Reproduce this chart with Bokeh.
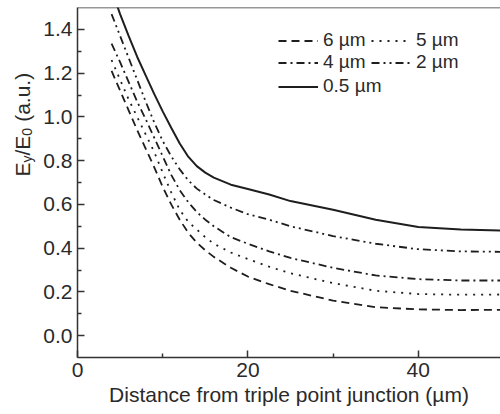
import math
from bokeh.plotting import figure
from bokeh.layouts import row
from bokeh.models import (Legend, LegendItem, Span, Label, FixedTicker, Range1d)
from bokeh.embed import file_html
from bokeh.resources import INLINE

# ---- data ----
distance = [4, 5, 6, 7, 8, 9, 10, 11, 12, 13, 14, 15, 16, 18, 20, 22.5, 25, 30, 35, 40, 45, 50]
e_6um = [1.21, 1.12, 1.03, 0.94, 0.855, 0.77, 0.68, 0.60, 0.53, 0.47, 0.425, 0.39, 0.36, 0.31, 0.27, 0.235, 0.205, 0.16, 0.13, 0.12, 0.117, 0.118]
e_5um = [1.26, 1.17, 1.08, 1.0, 0.92, 0.84, 0.745, 0.655, 0.575, 0.52, 0.485, 0.45, 0.42, 0.38, 0.35, 0.315, 0.285, 0.24, 0.205, 0.19, 0.187, 0.188]
e_4um = [1.335, 1.25, 1.16, 1.07, 0.99, 0.905, 0.82, 0.735, 0.665, 0.61, 0.565, 0.53, 0.50, 0.45, 0.42, 0.385, 0.355, 0.31, 0.275, 0.258, 0.252, 0.252]
e_2um = [1.47, 1.37, 1.27, 1.17, 1.07, 0.975, 0.89, 0.82, 0.76, 0.71, 0.672, 0.645, 0.62, 0.585, 0.555, 0.53, 0.50, 0.455, 0.42, 0.395, 0.385, 0.383]
e_05um = [1.58, 1.47, 1.37, 1.275, 1.19, 1.105, 1.025, 0.95, 0.878, 0.818, 0.775, 0.745, 0.722, 0.69, 0.67, 0.645, 0.615, 0.575, 0.53, 0.497, 0.485, 0.48]
series_labels = ["6 µm", "5 µm", "4 µm", "2 µm", "0.5 µm"]

x_ticks = [0, 20, 40]
x_tick_labels = ["0", "20", "40"]
x_minor = [10, 30]
y_ticks = [0.0, 0.2, 0.4, 0.6, 0.8, 1.0, 1.2, 1.4]
y_tick_labels = ["0.0", "0.2", "0.4", "0.6", "0.8", "1.0", "1.2", "1.4"]
y_minor = [0.1, 0.3, 0.5, 0.7, 0.9, 1.1, 1.3]

FONT = "Liberation Sans"
INK = "#1e1e1e"
AX = "#333333"
TXT = "#2a2a2a"

TOTAL_H = 414
LAB_W = 38

# ---- main plot ----
p = figure(width=500 - LAB_W, height=TOTAL_H, x_range=Range1d(0, 49.65), y_range=Range1d(-0.1, 1.5),
           output_backend="svg", toolbar_location=None,
           min_border_left=77 - LAB_W, min_border_right=0, min_border_top=7, min_border_bottom=57)
p.outline_line_color = None
p.grid.visible = False
p.background_fill_color = "white"

p.xaxis.ticker = FixedTicker(ticks=x_ticks, minor_ticks=x_minor)
p.xaxis.major_label_overrides = dict(zip(x_ticks, x_tick_labels))
p.yaxis.ticker = FixedTicker(ticks=y_ticks, minor_ticks=y_minor)
p.yaxis.major_label_overrides = dict(zip(y_ticks, y_tick_labels))

for ax in p.axis:
    ax.axis_line_color = AX
    ax.axis_line_width = 1.5
    ax.major_tick_line_color = AX
    ax.major_tick_line_width = 1.5
    ax.minor_tick_line_color = AX
    ax.minor_tick_line_width = 1.5
    ax.major_tick_in = 7
    ax.major_tick_out = 0
    ax.minor_tick_in = 4
    ax.minor_tick_out = 0
    ax.major_label_text_font = FONT
    ax.major_label_text_font_size = "21px"
    ax.major_label_text_color = TXT
    ax.axis_label_text_font = FONT
    ax.axis_label_text_font_size = "21px"
    ax.axis_label_text_font_style = "normal"
    ax.axis_label_text_color = TXT

p.xaxis.major_label_standoff = 5
p.xaxis.axis_label = "Distance from triple point junction (µm)"
p.xaxis.axis_label_standoff = 3
p.yaxis.major_label_standoff = 5

p.add_layout(Span(location=1.5, dimension="width", line_color=AX, line_width=1.5))

r6 = p.line(distance, e_6um, line_color=INK, line_width=1.8, line_dash="8 5")
r5 = p.line(distance, e_5um, line_color=INK, line_width=1.8, line_dash="2 6")
r4 = p.line(distance, e_4um, line_color=INK, line_width=1.8, line_dash="8 4 2 4")
r2 = p.line(distance, e_2um, line_color=INK, line_width=1.8, line_dash="8 4 2 4 2 4")
r05 = p.line(distance, e_05um, line_color=INK, line_width=2)

def style_legend(leg):
    leg.border_line_color = None
    leg.background_fill_alpha = 0
    leg.padding = 0
    leg.margin = 0
    leg.spacing = 0
    leg.glyph_width = 40
    leg.glyph_height = 19
    leg.label_height = 19
    leg.label_width = 48
    leg.label_standoff = 5
    leg.label_text_font = FONT
    leg.label_text_font_size = "19px"
    leg.label_text_color = TXT

leg1 = Legend(items=[LegendItem(label=series_labels[0], renderers=[r6]),
                     LegendItem(label=series_labels[2], renderers=[r4]),
                     LegendItem(label=series_labels[1], renderers=[r5]),
                     LegendItem(label=series_labels[3], renderers=[r2])],
              ncols=2, location=(201, 284))
style_legend(leg1)
leg2 = Legend(items=[LegendItem(label=series_labels[4], renderers=[r05])],
              location=(201, 260))
style_legend(leg2)
p.add_layout(leg1)
p.add_layout(leg2)

# ---- narrow strip holding the rotated y-axis title E_y/E_0 (a.u.) ----
lab = figure(width=LAB_W, height=TOTAL_H, x_range=Range1d(0, LAB_W), y_range=Range1d(0, TOTAL_H),
             output_backend="svg", toolbar_location=None,
             x_axis_location=None, y_axis_location=None,
             min_border_left=0, min_border_right=0, min_border_top=0, min_border_bottom=0)
lab.outline_line_color = None
lab.grid.visible = False

bx = 22              # baseline position (px from the left)
by = TOTAL_H - 233   # start of the text (px from the bottom)
# (text, baseline shift, font px, advance in em, extra gap after)
parts = [("E", 0, 21, 0.667, 0), ("y", 4, 14, 0.5, 0), ("/E", 0, 21, 0.945, 0),
         ("0", 4, 14, 0.556, 6), ("(a.u.)", 0, 21, 2.334, 0)]
pos = by
for txt, dx, fs, w, gap in parts:
    lab.add_layout(Label(x=bx + dx, y=pos, x_units="screen", y_units="screen", text=txt,
                         angle=math.pi / 2, text_font=FONT, text_font_size=f"{fs}px",
                         text_color=TXT, text_align="left", text_baseline="alphabetic"))
    pos += fs * w + gap

layout = row(lab, p, spacing=0)
open("out.html", "w").write(file_html(layout, INLINE))
